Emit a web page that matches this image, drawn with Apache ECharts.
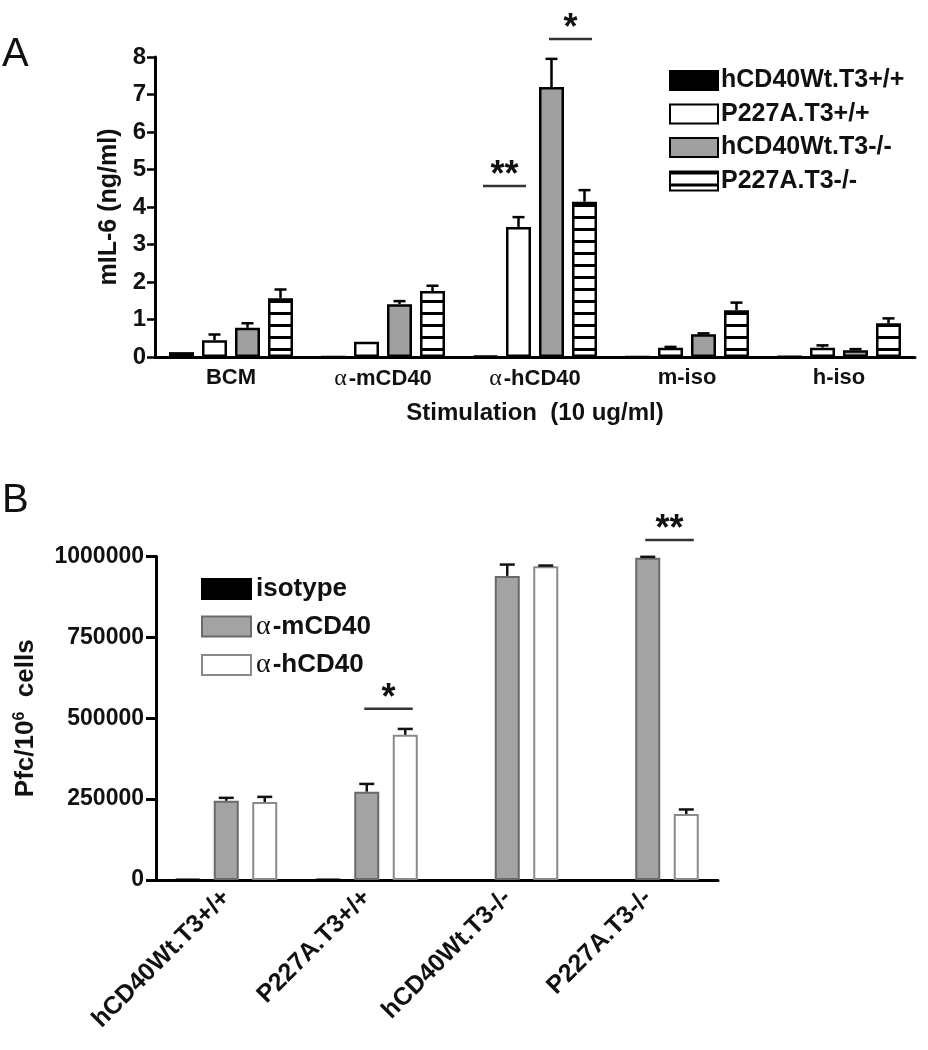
<!DOCTYPE html>
<html>
<head>
<meta charset="utf-8">
<script src="https://cdn.jsdelivr.net/npm/echarts@6/dist/echarts.min.js"></script>
<style>html,body{margin:0;padding:0;background:#fff}#c{width:928px;height:1050px}</style>
</head>
<body>
<div id="c"></div>
<script>
// ---------- Panel A data ----------
const catA = ['BCM', 'α-mCD40', 'α-hCD40', 'm-iso', 'h-iso'];
const namesA = ['hCD40Wt.T3+/+', 'P227A.T3+/+', 'hCD40Wt.T3-/-', 'P227A.T3-/-'];
const wtPP_A = [0.13, 0, 0.03, 0, 0.02];
const p227PP_A = [0.45, 0.41, 3.47, 0.25, 0.25];
const wtMM_A = [0.78, 1.41, 7.20, 0.61, 0.18];
const p227MM_A = [1.57, 1.76, 4.14, 1.25, 0.90];
const wtPP_A_err = [0.13, 0, 0.03, 0, 0.02];
const p227PP_A_err = [0.60, 0.41, 3.73, 0.27, 0.31];
const wtMM_A_err = [0.90, 1.49, 7.95, 0.63, 0.21];
const p227MM_A_err = [1.80, 1.90, 4.45, 1.45, 1.03];
const ticksA = [0, 1, 2, 3, 4, 5, 6, 7, 8];
// significance: [category, fromSeries, toSeries, y, label]
const sigA = [['α-hCD40', 0, 1, 4.56, '**'], ['α-hCD40', 2, 3, 8.48, '*']];

// ---------- Panel B data ----------
const catB = ['hCD40Wt.T3+/+', 'P227A.T3+/+', 'hCD40Wt.T3-/-', 'P227A.T3-/-'];
const namesB = ['isotype', 'α-mCD40', 'α-hCD40'];
const isotypeB = [3000, 3000, 0, 0];
const mCD40B = [245000, 273000, 940000, 996000];
const hCD40B = [241000, 449000, 970000, 204000];
const isotypeB_err = [3000, 3000, 0, 0];
const mCD40B_err = [254000, 297000, 975000, 999000];
const hCD40B_err = [257000, 467000, 972000, 218000];
const ticksB = [0, 250000, 500000, 750000, 1000000];
const sigB = [['P227A.T3+/+', 1, 2, 529000, '*'], ['P227A.T3-/-', 1, 2, 1051000, '**']];

// ---------- styling ----------
const FONT = "'Liberation Sans', Arial, sans-serif";
const SERIF = "'Liberation Serif', 'Times New Roman', serif";

const stripe = document.createElement('canvas');
stripe.width = 12; stripe.height = 12;
(function () {
  const g = stripe.getContext('2d');
  g.fillStyle = '#fff'; g.fillRect(0, 0, 12, 12);
  g.fillStyle = '#000'; g.fillRect(0, 0, 12, 3);
})();

const A = { w: 25, gap: 8, n: 4, cap: 6, lw: 2.5 };
const B = { w: 25, gap: 13.5, n: 3, cap: 7.5, lw: 2.5 };

function offset(cfg, i) {
  return (i - (cfg.n - 1) / 2) * (cfg.w + cfg.gap);
}

function alphaFmt(v) {
  if (v.charAt(0) === 'α') return '{g|α}{b|' + v.slice(1) + '}';
  return '{b|' + v + '}';
}

function errSeries(cfg, i, vals, errs, axisIdx, color) {
  return {
    type: 'custom', xAxisIndex: axisIdx, yAxisIndex: axisIdx, clip: false, z: 3,
    silent: true,
    data: vals.map((v, k) => [k, v, errs[k]]),
    renderItem: function (params, api) {
      const k = api.value(0), v = api.value(1), e = api.value(2);
      if (!(e > v)) return null;
      const p0 = api.coord([k, v]);
      const p1 = api.coord([k, e]);
      const x = p0[0] + offset(cfg, i);
      const st = { stroke: color, lineWidth: cfg.lw };
      return {
        type: 'group', children: [
          { type: 'line', shape: { x1: x, y1: p0[1], x2: x, y2: p1[1] }, style: st },
          { type: 'line', shape: { x1: x - cfg.cap, y1: p1[1], x2: x + cfg.cap, y2: p1[1] }, style: st }
        ]
      };
    }
  };
}

function sigSeries(cfg, cats, sig, axisIdx) {
  return {
    type: 'custom', xAxisIndex: axisIdx, yAxisIndex: axisIdx, clip: false, z: 4, silent: true,
    data: sig.map(s => [cats.indexOf(s[0]), s[3], s[1], s[2]]),
    renderItem: function (params, api) {
      const k = api.value(0), y = api.value(1), f = api.value(2), t = api.value(3);
      const p = api.coord([k, y]);
      const x1 = p[0] + offset(cfg, f) - cfg.w * 0.1;
      const x2 = p[0] + offset(cfg, t) + cfg.w * 0.3;
      const label = sig[params.dataIndex][4];
      return {
        type: 'group', children: [
          { type: 'line', shape: { x1: x1, y1: p[1], x2: x2, y2: p[1] }, style: { stroke: '#333', lineWidth: 2.5 } },
          { type: 'text', x: (x1 + x2) / 2, y: p[1] + 8, style: { text: label, fill: '#111', font: 'bold 36px ' + FONT, align: 'center', verticalAlign: 'bottom' } }
        ]
      };
    }
  };
}

const barA = (name, data, color) => ({
  name: name, type: 'bar', xAxisIndex: 0, yAxisIndex: 0, data: data,
  barWidth: A.w, barGap: (A.gap / A.w * 100) + '%',
  itemStyle: { color: color, borderColor: '#000', borderWidth: 2.5 },
  z: 2
});
const barB = (name, data, color, border) => ({
  name: name, type: 'bar', xAxisIndex: 1, yAxisIndex: 1, data: data,
  barWidth: B.w, barGap: (B.gap / B.w * 100) + '%',
  itemStyle: { color: color, borderColor: border, borderWidth: 2 },
  z: 2
});

const richLbl = (size, lh) => ({
  g: { fontFamily: SERIF, fontSize: size + 2, fontWeight: 'normal', color: '#111', padding: [0, 2, 0, 0], lineHeight: lh },
  b: { fontFamily: FONT, fontSize: size, fontWeight: 'bold', color: '#111', lineHeight: lh }
});

const chart = echarts.init(document.getElementById('c'), null, { renderer: 'canvas' });
chart.setOption({
  animation: false,
  backgroundColor: '#fff',
  title: [
    { text: 'A', left: 2, top: 35, padding: 0, textStyle: { fontFamily: FONT, fontSize: 40, fontWeight: 'normal', color: '#111' } },
    { text: 'B', left: 2, top: 481, padding: 0, textStyle: { fontFamily: FONT, fontSize: 40, fontWeight: 'normal', color: '#111' } }
  ],
  legend: [
    {
      data: namesA, orient: 'vertical', left: 669, top: 68, padding: 0,
      itemWidth: 48, itemHeight: 19, itemGap: 8.5, icon: 'rect',
      textStyle: { fontFamily: FONT, fontSize: 25, fontWeight: 'bold', color: '#111', padding: [0, 0, 0, -2] },
      selectedMode: false
    },
    {
      data: namesB, orient: 'vertical', left: 201, top: 576, padding: 0,
      itemWidth: 49, itemHeight: 20, itemGap: 10.5, icon: 'rect',
      formatter: alphaFmt,
      textStyle: { fontFamily: FONT, fontSize: 26, fontWeight: 'bold', color: '#111', rich: richLbl(26) },
      selectedMode: false
    }
  ],
  grid: [
    { left: 155, top: 57, width: 760, height: 300 },
    { left: 156, top: 556.5, width: 562, height: 323.5 }
  ],
  xAxis: [
    {
      type: 'category', gridIndex: 0, data: catA,
      name: 'Stimulation  (10 ug/ml)', nameLocation: 'middle', nameGap: 44,
      nameTextStyle: { fontFamily: FONT, fontSize: 24, fontWeight: 'bold', color: '#111' },
      axisLine: { lineStyle: { color: '#000', width: 3 } },
      axisTick: { alignWithLabel: true, length: 8, lineStyle: { color: '#000', width: 2.5 } },
      axisLabel: { margin: 10, formatter: alphaFmt, rich: richLbl(22), color: '#111' },
      splitLine: { show: false }
    },
    {
      type: 'category', gridIndex: 1, data: catB,
      axisLine: { lineStyle: { color: '#000', width: 3 } },
      axisTick: { alignWithLabel: true, length: 9, lineStyle: { color: '#000', width: 3 } },
      axisLabel: { margin: 14, rotate: 45, fontFamily: FONT, fontSize: 25, fontWeight: 'bold', color: '#111', interval: 0 },
      splitLine: { show: false }
    }
  ],
  yAxis: [
    {
      type: 'value', gridIndex: 0, min: ticksA[0], max: ticksA[ticksA.length - 1], interval: ticksA[1] - ticksA[0],
      name: 'mIL-6 (ng/ml)', nameLocation: 'middle', nameGap: 32, nameRotate: 90,
      nameTextStyle: { fontFamily: FONT, fontSize: 25, fontWeight: 'bold', color: '#111' },
      axisLine: { show: true, lineStyle: { color: '#000', width: 3 } },
      axisTick: { show: true, length: 8, lineStyle: { color: '#000', width: 2.5 } },
      axisLabel: { margin: 9, fontFamily: FONT, fontSize: 24, fontWeight: 'bold', color: '#111' },
      splitLine: { show: false }
    },
    {
      type: 'value', gridIndex: 1, min: ticksB[0], max: ticksB[ticksB.length - 1], interval: ticksB[1] - ticksB[0],
      name: '{a|Pfc/10}{s|6}{a|  cells}', nameLocation: 'middle', nameGap: 116, nameRotate: 90,
      nameTextStyle: {
        fontFamily: FONT, fontSize: 26, fontWeight: 'bold', color: '#111',
        rich: {
          a: { fontFamily: FONT, fontSize: 26, fontWeight: 'bold', color: '#111' },
          s: { fontFamily: FONT, fontSize: 16, fontWeight: 'bold', color: '#111', verticalAlign: 'top', padding: [0, 0, 12, 0] }
        }
      },
      axisLine: { show: true, lineStyle: { color: '#000', width: 3 } },
      axisTick: { show: true, length: 10, lineStyle: { color: '#000', width: 3 } },
      axisLabel: { margin: 12, fontFamily: FONT, fontSize: 23, fontWeight: 'bold', color: '#111', formatter: v => String(v) },
      splitLine: { show: false }
    }
  ],
  series: [
    barA(namesA[0], wtPP_A, '#000'),
    barA(namesA[1], p227PP_A, '#fff'),
    barA(namesA[2], wtMM_A, '#a0a0a0'),
    barA(namesA[3], p227MM_A, { image: stripe, repeat: 'repeat' }),
    errSeries(A, 0, wtPP_A, wtPP_A_err, 0, '#000'),
    errSeries(A, 1, p227PP_A, p227PP_A_err, 0, '#000'),
    errSeries(A, 2, wtMM_A, wtMM_A_err, 0, '#000'),
    errSeries(A, 3, p227MM_A, p227MM_A_err, 0, '#000'),
    sigSeries(A, catA, sigA, 0),
    barB(namesB[0], isotypeB, '#000', '#000'),
    barB(namesB[1], mCD40B, '#a3a3a3', '#6a6a6a'),
    barB(namesB[2], hCD40B, '#fff', '#8a8a8a'),
    errSeries(B, 0, isotypeB, isotypeB_err, 1, '#000'),
    errSeries(B, 1, mCD40B, mCD40B_err, 1, '#111'),
    errSeries(B, 2, hCD40B, hCD40B_err, 1, '#111'),
    sigSeries(B, catB, sigB, 1)
  ]
});
</script>
</body>
</html>
